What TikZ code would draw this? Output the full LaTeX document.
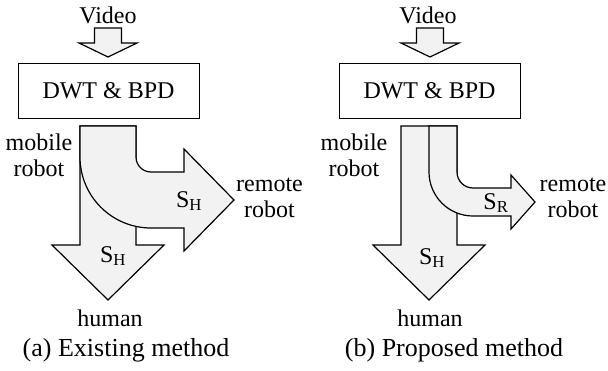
\documentclass[tikz,border=0pt]{standalone}
\usepackage{fontspec}
\setmainfont{Liberation Serif}

\begin{document}
\begin{tikzpicture}[x=1pt,y=1pt,
  flow/.style={draw,line width=1.2pt,fill=black!5,line join=miter},
  lbl/.style={inner sep=0pt,align=center,font=\fontsize{24}{26}\selectfont},
  capt/.style={inner sep=0pt,font=\fontsize{26}{30}\selectfont}]
\useasboundingbox (0,0) rectangle (608,-370);
% (a) existing method
\node (va) at (108,-15) [lbl] {Video};
\draw [flow] (94.5,-28) -- (121.5,-28) -- (121.5,-43) -- (137,-43) -- (108,-57) -- (79,-43) -- (94.5,-43) -- cycle;
\node (boxa) at (108.5,-90.5) [draw,line width=1pt,minimum width=181pt,minimum height=55pt,lbl] {DWT \& BPD};
\draw [flow] (80,-126) -- (136,-126) -- (136,-245) -- (164,-245) -- (108,-300) -- (52,-245) -- (80,-245) -- cycle;
\draw [flow] (80,-126) -- (136,-126) -- (136,-157) arc (180:270:15) -- (184,-172) -- (184,-149) -- (234,-200)
  -- (184,-251) -- (184,-228) -- (151,-228) arc (270:180:71) -- cycle;
\node (sha) at (189,-201) [lbl] {S\textsubscript{H}};
\node (shd) at (113,-256) [lbl] {S\textsubscript{H}};
\node (mra) at (39,-155) [lbl] {mobile\\robot};
\node (rra) at (269.5,-198) [lbl] {remote\\robot};
\node (hua) at (110,-318) [lbl] {human};
\node (capa) at (126,-350) [capt] {(a) Existing method};
% (b) proposed method
\node (vb) at (428,-15) [lbl] {Video};
\draw [flow] (416.5,-28) -- (443.5,-28) -- (443.5,-43) -- (459,-43) -- (430,-57) -- (401,-43) -- (416.5,-43) -- cycle;
\node (boxb) at (429.5,-90.5) [draw,line width=1pt,minimum width=181pt,minimum height=55pt,lbl] {DWT \& BPD};
\draw [flow] (401,-126) -- (457,-126) -- (457,-245) -- (485,-245) -- (429,-300) -- (373,-245) -- (401,-245) -- cycle;
\draw [flow] (429,-126) -- (457,-126) -- (457,-172) arc (180:270:16) -- (511,-188) -- (511,-175) -- (535,-202)
  -- (511,-229) -- (511,-216) -- (473,-216) arc (270:180:44) -- cycle;
\node (srb) at (496,-203) [lbl] {S\textsubscript{R}};
\node (shb) at (432,-258) [lbl] {S\textsubscript{H}};
\node (mrb) at (354,-155) [lbl] {mobile\\robot};
\node (rrb) at (573,-198) [lbl] {remote\\robot};
\node (hub) at (430,-318) [lbl] {human};
\node (capb) at (454,-350) [capt] {(b) Proposed method};
\end{tikzpicture}
\end{document}
